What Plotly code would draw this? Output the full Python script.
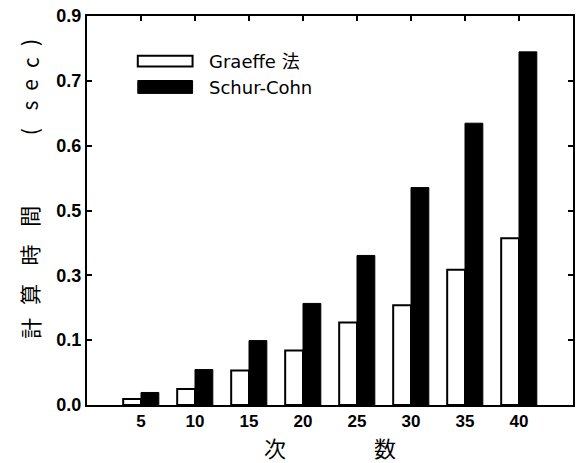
import plotly.graph_objects as go

orders = [5, 10, 15, 20, 25, 30, 35, 40]
graeffe = [0.014, 0.037, 0.080, 0.126, 0.191, 0.231, 0.313, 0.386]
schur = [0.029, 0.082, 0.149, 0.235, 0.346, 0.503, 0.652, 0.817]
series_names = ["Graeffe 法", "Schur-Cohn"]
ytick_vals = [0, 0.15, 0.3, 0.45, 0.6, 0.75, 0.9]
ytick_text = ["0.0", "0.1", "0.3", "0.5", "0.6", "0.7", "0.9"]
x_title = "次　　　　数"
y_title_parts = ["計", "算", "時", "間", "(", "s", "e", "c", ")"]

W, H = 581, 463
ml, mr, mt, mb = 87, 6, 13, 58

fig = go.Figure()
fig.add_trace(go.Bar(x=orders, y=graeffe, name=series_names[0], width=1.65, offset=-1.65,
                     marker=dict(color="white", line=dict(color="black", width=2)), showlegend=False))
fig.add_trace(go.Bar(x=orders, y=schur, name=series_names[1], width=1.65, offset=0,
                     marker=dict(color="black", line=dict(color="black", width=1)), showlegend=False))

fig.update_xaxes(range=[0, 45], tickvals=orders, ticktext=[str(o) for o in orders],
                 ticks="inside", ticklen=5, tickwidth=2, tickcolor="black",
                 showline=True, linewidth=2, linecolor="black", mirror="ticks",
                 showgrid=False, zeroline=False,
                 tickfont=dict(family="Liberation Sans", size=17, color="black", weight="bold"),
                 title=dict(text=x_title, font=dict(family="Noto Sans CJK JP", size=22, color="black"), standoff=7))
fig.update_yaxes(range=[0, 0.9], tickvals=ytick_vals, ticktext=ytick_text,
                 ticks="inside", ticklen=5, tickwidth=2, tickcolor="black",
                 showline=True, linewidth=2, linecolor="black", mirror="ticks",
                 showgrid=False, zeroline=False,
                 tickfont=dict(family="Liberation Sans", size=18, color="black", weight="bold"))

pw = W - ml - mr
ph = H - mt - mb
def px(x):
    return (x - ml) / pw
def py(y):
    return (H - mb - y) / ph

# custom legend
fig.add_shape(type="rect", xref="paper", yref="paper", x0=px(138), x1=px(193), y0=py(64), y1=py(53),
              fillcolor="white", line=dict(color="black", width=2))
fig.add_shape(type="rect", xref="paper", yref="paper", x0=px(138), x1=px(193), y0=py(91), y1=py(78),
              fillcolor="black", line=dict(color="black", width=1))
for name, yc in zip(series_names, [59, 85]):
    fig.add_annotation(xref="paper", yref="paper", x=px(207), y=py(yc), xanchor="left", yanchor="middle",
                       text=name, showarrow=False,
                       font=dict(family="DejaVu Sans, Noto Sans CJK JP", size=18, color="black"))

# vertical y-axis title, glyph by glyph
glyph_y = [328, 294, 254, 215, 130, 103, 82, 60, 40]
for ch, yc in zip(y_title_parts, glyph_y):
    fig.add_annotation(xref="paper", yref="paper", x=px(29), y=py(yc), xanchor="center", yanchor="middle",
                       text=ch, textangle=-90, showarrow=False,
                       font=dict(family="Noto Sans CJK JP", size=21, color="black"))

fig.update_layout(width=W, height=H, margin=dict(l=ml, r=mr, t=mt, b=mb),
                  paper_bgcolor="white", plot_bgcolor="white", barmode="overlay")
fig.write_html("out.html", config={"displayModeBar": False},
               post_script="document.body.style.margin='0';document.body.style.overflow='hidden';")
